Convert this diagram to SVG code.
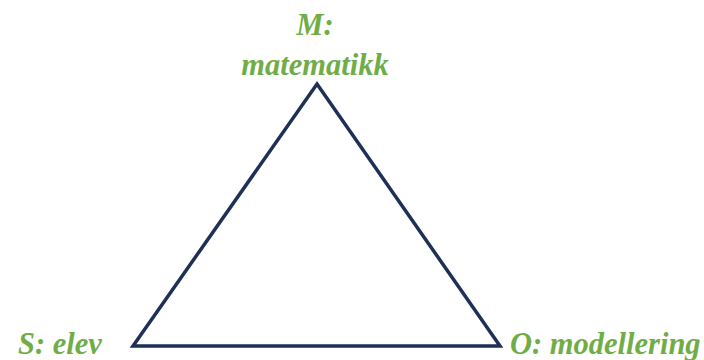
<svg xmlns="http://www.w3.org/2000/svg" width="704" height="360" viewBox="0 0 704 360">
<style>
.lbl{font-family:'Liberation Serif','DejaVu Serif',serif;font-weight:700;font-style:italic;font-size:30.5px;fill:#70AD47}
.edge{fill:none;stroke:#1F3057;stroke-width:3.5;stroke-linejoin:miter}
</style>
<rect width="704" height="360" fill="#FFFFFF"/>
<g id="connectors">
<path class="edge" d="M317,84 L500,346 L133,346 Z"/>
</g>
<g id="node-M">
<text class="lbl" x="315" y="35" text-anchor="middle">M:</text>
<text class="lbl" x="315" y="75" text-anchor="middle">matematikk</text>
</g>
<g id="node-S">
<text class="lbl" x="18" y="354">S: elev</text>
</g>
<g id="node-O">
<text class="lbl" x="510" y="354">O: modellering</text>
</g>
</svg>
